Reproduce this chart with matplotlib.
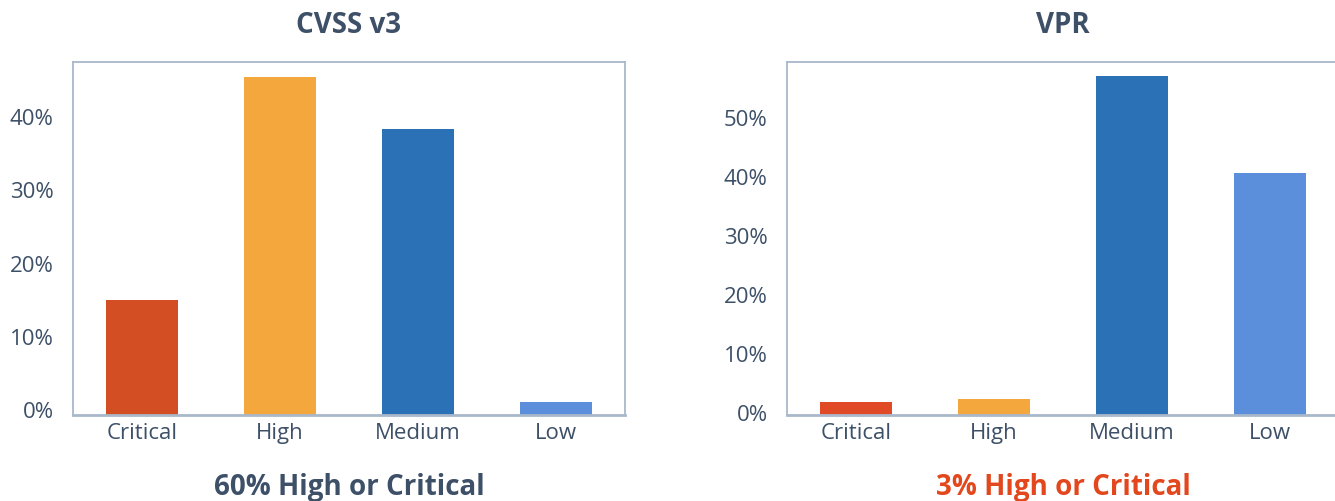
import matplotlib.pyplot as plt
import matplotlib.transforms as mtransforms
from matplotlib.ticker import PercentFormatter

# categories and values (percent of vulnerabilities)
categorias = ['Critical', 'High', 'Medium', 'Low']
cvss_valores = [15.7, 46.1, 39.0, 1.8]
vpr_valores = [2.2, 2.7, 57.5, 41.0]

cvss_cores = ['#D34F23', '#F4A73C', '#2A71B5', '#5B8FDC']
vpr_cores = ['#E04A26', '#F4A73C', '#2A71B5', '#5B8FDC']

cor_texto = '#3D5068'
cor_borda = '#A9B8CA'
cor_alerta = '#E2471D'

plt.rcParams['font.family'] = ['Open Sans', 'DejaVu Sans']

fig = plt.figure(figsize=(13.35, 5.01), dpi=100)

paineis = [
    ([73 / 1335, 0.1717, 552 / 1335, 0.7046], 'CVSS v3', cvss_valores, cvss_cores,
     48.2, [0, 10, 20, 30, 40], '60% High or Critical', cor_texto, 3.6),
    ([787 / 1335, 0.1717, 552 / 1335, 0.7046], 'VPR', vpr_valores, vpr_cores,
     59.8, [0, 10, 20, 30, 40, 50], '3% High or Critical', cor_alerta, 1.5),
]

for pos, titulo, valores, cores, ymax, ticks, rodape, cor_rodape, sobe in paineis:
    ax = fig.add_axes(pos)
    ax.bar(range(len(categorias)), valores, width=0.52, color=cores, zorder=2)
    ax.set_xlim(-0.5, 3.5)
    ax.set_ylim(0, ymax)
    ax.set_xticks(range(len(categorias)))
    ax.set_xticklabels(categorias)
    ax.set_yticks(ticks)
    ax.yaxis.set_major_formatter(PercentFormatter(decimals=0))
    ax.tick_params(length=0, labelsize=16, colors=cor_texto)
    ax.tick_params(axis='y', pad=14)
    ax.tick_params(axis='x', pad=6)
    # rótulos do eixo y um pouco acima da linha, como no original
    desloc = mtransforms.ScaledTranslation(0, sobe / 72, fig.dpi_scale_trans)
    for rotulo in ax.get_yticklabels():
        rotulo.set_transform(rotulo.get_transform() + desloc)
    for s in ax.spines.values():
        s.set_color(cor_borda)
        s.set_linewidth(1.3)
    ax.spines['bottom'].set_linewidth(2)
    ax.set_title(titulo, fontsize=20, fontweight='bold', color=cor_texto, pad=21)
    ax.text(0.5, -0.205, rodape, transform=ax.transAxes, ha='center', va='center',
            fontsize=20, fontweight='bold', color=cor_rodape)

fig.savefig('out.png', dpi=100)
